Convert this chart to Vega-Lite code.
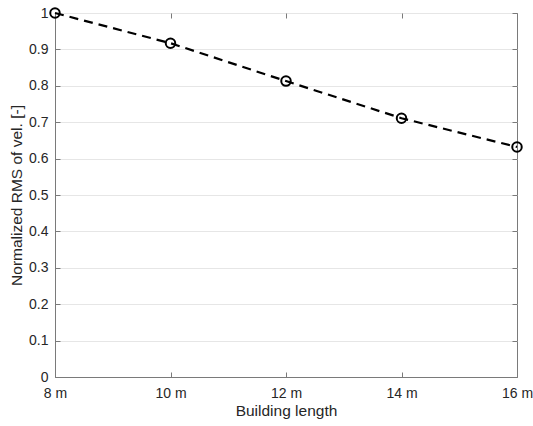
{
  "$schema": "https://vega.github.io/schema/vega-lite/v6.json",
  "width": 462,
  "height": 364,
  "autosize": {"type": "none"},
  "padding": {"left": 55, "top": 13, "right": 16, "bottom": 49},
  "background": "white",
  "config": {
    "font": "Liberation Sans",
    "view": {"stroke": "#7a7a7a", "strokeWidth": 1},
    "axis": {
      "labelFont": "Liberation Sans",
      "titleFont": "Liberation Sans",
      "labelFontSize": 14,
      "titleFontSize": 15.5,
      "titleFontWeight": "normal",
      "labelColor": "#262626",
      "titleColor": "#262626",
      "domainColor": "#7a7a7a",
      "tickColor": "#7a7a7a",
      "tickSize": -5,
      "labelFlush": false,
      "gridColor": "#e6e6e6",
      "gridOpacity": 1
    }
  },
  "data": {
    "values": [
      {"length": 8, "rms": 1.0},
      {"length": 10, "rms": 0.917},
      {"length": 12, "rms": 0.813},
      {"length": 14, "rms": 0.711},
      {"length": 16, "rms": 0.632}
    ]
  },
  "layer": [
    {
      "mark": {"type": "line", "color": "black", "strokeWidth": 2.2, "strokeDash": [9, 6]},
      "encoding": {
        "x": {
          "field": "length", "type": "quantitative",
          "scale": {"domain": [8, 16], "nice": false},
          "axis": {"values": [8, 10, 12, 14, 16], "labelExpr": "datum.value + ' m'", "title": "Building length", "grid": false, "labelPadding": 14, "titlePadding": 3}
        },
        "y": {
          "field": "rms", "type": "quantitative",
          "scale": {"domain": [0, 1], "nice": false},
          "axis": {"values": [0, 0.1, 0.2, 0.3, 0.4, 0.5, 0.6, 0.7, 0.8, 0.9, 1], "labelExpr": "datum.value == 0 ? '0' : datum.value == 1 ? '1' : format(datum.value, '.1f')", "title": "Normalized RMS of vel. [-]", "grid": true, "labelPadding": 12, "titlePadding": 4}
        }
      }
    },
    {
      "mark": {"type": "point", "shape": "circle", "filled": false, "color": "black", "strokeWidth": 2, "size": 90, "opacity": 1},
      "encoding": {
        "x": {"field": "length", "type": "quantitative", "axis": {"orient": "top", "values": [8, 10, 12, 14, 16], "labels": false, "title": null, "grid": false, "domain": false}},
        "y": {"field": "rms", "type": "quantitative", "axis": {"orient": "right", "values": [0, 0.1, 0.2, 0.3, 0.4, 0.5, 0.6, 0.7, 0.8, 0.9, 1], "labels": false, "title": null, "grid": false, "domain": false}}
      }
    }
  ],
  "resolve": {"axis": {"x": "independent", "y": "independent"}}
}
